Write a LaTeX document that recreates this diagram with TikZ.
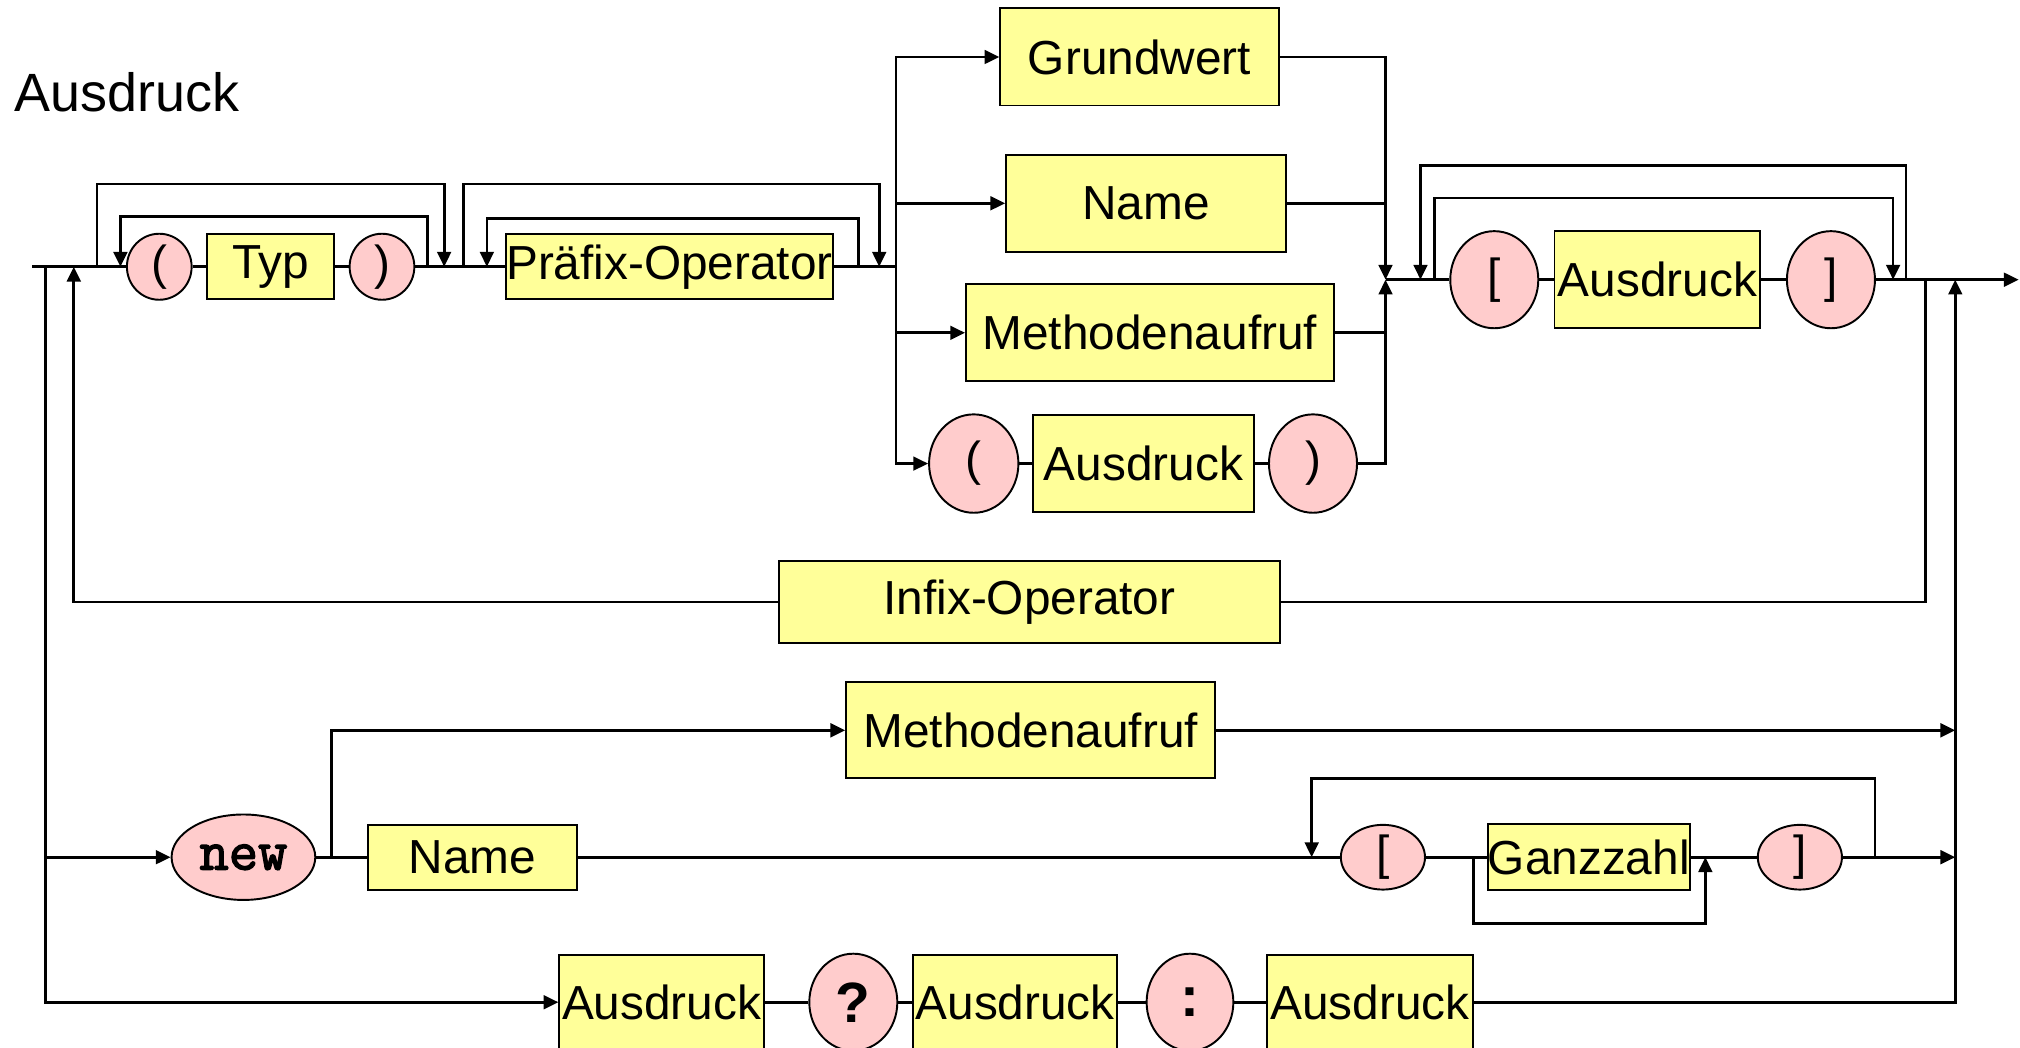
\documentclass[tikz,border=0pt]{standalone}
\usepackage{fontspec}
\setmainfont{Liberation Sans}
\newfontfamily\kwfont[FakeBold=2.5]{Latin Modern Mono}
\usepackage{tikz}
\usetikzlibrary{shapes.geometric,arrows.meta}
\definecolor{boxyellow}{RGB}{255,255,153}
\definecolor{tokpink}{RGB}{255,204,204}
\tikzset{
  nt/.style={draw, fill=boxyellow, line width=0.85pt, inner sep=0pt, font=\fontsize{21}{25}\selectfont},
  tok/.style={ellipse, draw, fill=tokpink, line width=0.85pt, inner sep=0pt, font=\fontsize{21}{25}\selectfont},
  flow/.style={line width=1.2pt},
  arr/.style={flow, -{Triangle[length=6.5pt,width=6pt]}}
}

\begin{document}
\begin{tikzpicture}[x=0.02cm,y=-0.02cm]
\useasboundingbox (0,0) rectangle (1560,809);
\node[anchor=base west, inner sep=0pt, font=\fontsize{23.7}{28}\selectfont] (title) at (11,86) {Ausdruck};

% cast and prefix
\node[tok, minimum width=1cm, minimum height=1.02cm] (lpar) at (123,206) {(};
\node[nt, minimum width=1.96cm, minimum height=1cm] (typ) at (209,206) {Typ};
\node[tok, minimum width=1cm, minimum height=1.02cm] (rpar) at (295,206) {)};
\node[nt, minimum width=5.02cm, minimum height=1cm] (prefix) at (517,206) {Präfix-Operator};

% alternatives
\node[nt, minimum width=4.3cm, minimum height=1.5cm] (grund) at (880,44) {Grundwert};
\node[nt, minimum width=4.32cm, minimum height=1.5cm] (name) at (885,157) {Name};
\node[nt, minimum width=5.68cm, minimum height=1.5cm] (meth) at (888,257) {Methodenaufruf};
\node[tok, minimum width=1.38cm, minimum height=1.52cm] (plpar) at (752,358) {(};
\node[nt, minimum width=3.42cm, minimum height=1.5cm] (pexpr) at (883,358) {Ausdruck};
\node[tok, minimum width=1.36cm, minimum height=1.52cm] (prpar) at (1014,358) {)};

% index
\node[tok, minimum width=1.36cm, minimum height=1.5cm] (lbrack) at (1154,216) {[};
\node[nt, minimum width=3.18cm, minimum height=1.5cm] (iexpr) at (1280,216) {Ausdruck};
\node[tok, minimum width=1.36cm, minimum height=1.5cm] (rbrack) at (1414,216) {]};

\node[nt, minimum width=7.74cm, minimum height=1.26cm] (infix) at (795,465) {Infix-Operator};

% new
\node[tok, minimum width=2.22cm, minimum height=1.32cm, font=\fontsize{25}{29}\selectfont\kwfont] (new) at (188,662) {new};
\node[nt, minimum width=5.7cm, minimum height=1.48cm] (nmeth) at (796,564) {Methodenaufruf};
\node[nt, minimum width=3.22cm, minimum height=1cm] (nname) at (365,662) {Name};
\node[tok, minimum width=1.3cm, minimum height=1cm] (albrack) at (1068,662) {[};
\node[nt, minimum width=3.1cm, minimum height=1.02cm] (ganz) at (1227,662) {Ganzzahl};
\node[tok, minimum width=1.3cm, minimum height=1cm] (arbrack) at (1390,662) {]};

% conditional
\node[nt, minimum width=3.16cm, minimum height=1.46cm] (cond) at (511,774) {Ausdruck};
\node[tok, minimum width=1.36cm, minimum height=1.5cm, font=\fontsize{25}{29}\selectfont\bfseries] (quest) at (659,774) {?};
\node[nt, minimum width=3.16cm, minimum height=1.46cm] (thenexpr) at (784,774) {Ausdruck};
\node[tok, minimum width=1.34cm, minimum height=1.5cm, font=\fontsize{25}{29}\selectfont\bfseries] (colon) at (919,774) {:};
\node[nt, minimum width=3.18cm, minimum height=1.46cm] (elseexpr) at (1058,774) {Ausdruck};

% junctions
\coordinate (start) at (25,206);
\coordinate (jdown) at (35,206);
\coordinate (jinfix) at (57,206);
\coordinate (c1) at (75,206);
\coordinate (c2) at (93,206);
\coordinate (c3) at (330,206);
\coordinate (c4) at (343,206);
\coordinate (p1) at (358,206);
\coordinate (p2) at (376,206);
\coordinate (p3) at (663,206);
\coordinate (p4) at (679,206);
\coordinate (fork) at (692,206);
\coordinate (merge) at (1070,216);
\coordinate (i1) at (1097,216);
\coordinate (i2) at (1108,216);
\coordinate (i3) at (1462,216);
\coordinate (i4) at (1472,216);
\coordinate (jinfixr) at (1487,216);
\coordinate (jexit) at (1510,216);
\coordinate (finish) at (1559,216);
\coordinate (nfork) at (256,662);
\coordinate (a1) at (1013,662);
\coordinate (a2) at (1138,662);
\coordinate (a3) at (1317,662);
\coordinate (a4) at (1448,662);

% main row
\draw[flow] (start) -- (lpar);
\draw[flow] (lpar) -- (typ) -- (rpar);
\draw[flow] (rpar) -- (prefix);
\draw[flow] (prefix) -- (fork);
\draw[arr] (c1) -- ++(0,-64) -| (c4);
\draw[arr] (c3) -- ++(0,-39) -| (c2);
\draw[arr] (p1) -- ++(0,-64) -| (p4);
\draw[arr] (p3) -- ++(0,-37) -| (p2);

\draw[arr] (fork) |- (grund);
\draw[arr] (fork) |- (name);
\draw[arr] (fork) |- (meth);
\draw[arr] (fork) |- (plpar);
\draw[flow] (plpar) -- (pexpr) -- (prpar);
\draw[arr] (grund) -| (merge);
\draw[flow] (name) -- (name -| merge);
\draw[flow] (meth) -- (meth -| merge);
\draw[arr] (prpar) -| (merge);

\draw[flow] (merge) -- (lbrack);
\draw[flow] (lbrack) -- (iexpr) -- (rbrack);
\draw[arr] (rbrack) -- (finish);
\draw[arr] (i4) -- ++(0,-88) -| (i1);
\draw[arr] (i2) -- ++(0,-63) -| (i3);

\draw[flow] (jinfixr) |- (infix);
\draw[arr] (infix) -| (jinfix);

% new row
\draw[arr] (jdown) |- (new);
\draw[flow] (new) -- (nname);
\draw[arr] (nfork) |- (nmeth);
\draw[arr] (nmeth) -- (nmeth -| jexit);
\draw[flow] (nname) -- (albrack);
\draw[flow] (albrack) -- (ganz) -- (arbrack);
\draw[arr] (arbrack) -- (arbrack -| jexit);
\draw[arr] (a4) -- ++(0,-61) -| (a1);
\draw[arr] (a2) -- ++(0,51) -| (a3);

% conditional row
\draw[arr] (jdown) |- (cond);
\draw[flow] (cond) -- (quest) -- (thenexpr) -- (colon) -- (elseexpr);
\draw[arr] (elseexpr) -| (jexit);
\end{tikzpicture}
\end{document}
